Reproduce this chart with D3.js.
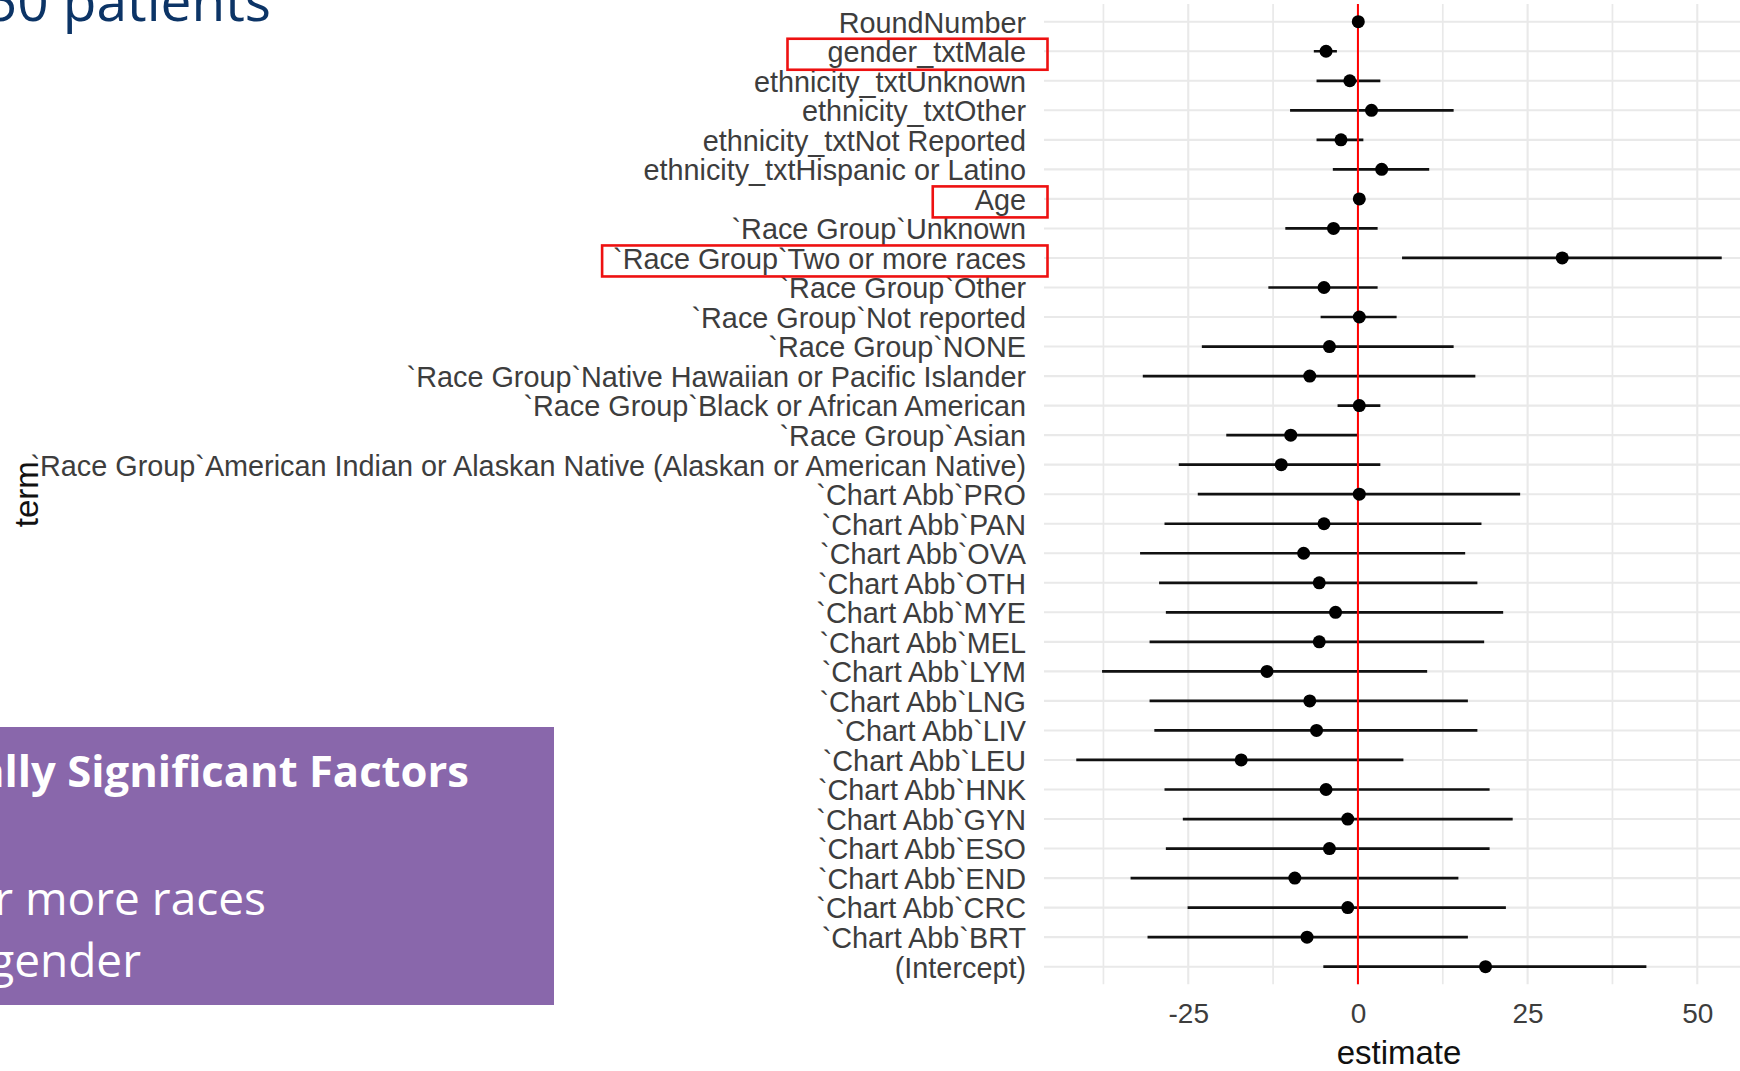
<!DOCTYPE html>
<html>
<head>
<meta charset="utf-8">
<script src="https://cdn.jsdelivr.net/npm/d3@7"></script>
<style>
  html, body { margin: 0; padding: 0; background: #fff; }
  svg { display: block; }
</style>
</head>
<body>
<svg id="chart" width="1740" height="1071"></svg>
<script>
// Model terms, listed top to bottom as they appear on the y axis
const terms = [
  "RoundNumber",
  "gender_txtMale",
  "ethnicity_txtUnknown",
  "ethnicity_txtOther",
  "ethnicity_txtNot Reported",
  "ethnicity_txtHispanic or Latino",
  "Age",
  "`Race Group`Unknown",
  "`Race Group`Two or more races",
  "`Race Group`Other",
  "`Race Group`Not reported",
  "`Race Group`NONE",
  "`Race Group`Native Hawaiian or Pacific Islander",
  "`Race Group`Black or African American",
  "`Race Group`Asian",
  "`Race Group`American Indian or Alaskan Native (Alaskan or American Native)",
  "`Chart Abb`PRO",
  "`Chart Abb`PAN",
  "`Chart Abb`OVA",
  "`Chart Abb`OTH",
  "`Chart Abb`MYE",
  "`Chart Abb`MEL",
  "`Chart Abb`LYM",
  "`Chart Abb`LNG",
  "`Chart Abb`LIV",
  "`Chart Abb`LEU",
  "`Chart Abb`HNK",
  "`Chart Abb`GYN",
  "`Chart Abb`ESO",
  "`Chart Abb`END",
  "`Chart Abb`CRC",
  "`Chart Abb`BRT",
  "(Intercept)"
];

// Coefficient estimates and confidence bounds, same order as terms
const estimate = [
  0.05, -4.7, -1.2, 2.0, -2.5, 3.5, 0.2, -3.6, 30.1, -5.0, 0.2,
  -4.2, -7.1, 0.2, -9.9, -11.3, 0.2, -5.0, -8.0, -5.7, -3.3, -5.7,
  -13.4, -7.1, -6.1, -17.2, -4.7, -1.5, -4.2, -9.3, -1.5, -7.5, 18.8
];
const confLow = [
  -0.2, -6.5, -6.1, -10.0, -6.1, -3.7, -0.1, -10.7, 6.5, -13.2, -5.5,
  -23.0, -31.7, -3.0, -19.4, -26.4, -23.6, -28.5, -32.1, -29.3, -28.3, -30.7,
  -37.7, -30.7, -30.0, -41.5, -28.5, -25.8, -28.3, -33.5, -25.1, -31.0, -5.1
];
const confHigh = [
  0.3, -3.1, 3.3, 14.1, 0.8, 10.5, 0.5, 2.9, 53.6, 2.9, 5.7,
  14.1, 17.3, 3.3, -0.1, 3.3, 23.9, 18.2, 15.8, 17.6, 21.4, 18.6,
  10.2, 16.2, 17.6, 6.7, 19.4, 22.8, 19.4, 14.8, 21.8, 16.2, 42.5
];

// Axis ticks
const majorTicks = [-25, 0, 25, 50];
const minorTicks = [-37.5, -12.5, 12.5, 37.5];

// Terms called out with a red frame around their label
const highlighted = ["gender_txtMale", "Age", "`Race Group`Two or more races"];

// Slide text around the plot
const titleText = "50 patients";
const boxHeading = "Statistically Significant Factors";
const boxLines = ["Two or more races", "Male gender"];

const rows = terms.map((t, i) => ({
  term: t, est: estimate[i], lo: confLow[i], hi: confHigh[i]
}));

const svg = d3.select("#chart");
svg.append("rect").attr("width", 1740).attr("height", 1071).attr("fill", "#fff");

// Panel geometry
const panel = { left: 1044, right: 1754, top: 4, bottom: 984.4 };

// ggplot-style 5% expansion of the data range
const lo = d3.min(confLow), hi = d3.max(confHigh);
const pad = (hi - lo) * 0.05;
const x = d3.scaleLinear().domain([lo - pad, hi + pad]).range([panel.left, panel.right]);
const y = d3.scalePoint().domain(terms).range([panel.top, panel.bottom]).padding(0.6);

svg.append("clipPath").attr("id", "panelClip")
  .append("rect")
  .attr("x", panel.left).attr("y", panel.top)
  .attr("width", panel.right - panel.left).attr("height", panel.bottom - panel.top);

const plot = svg.append("g").attr("clip-path", "url(#panelClip)");

// Grid
plot.selectAll("line.minor").data(minorTicks).join("line")
  .attr("class", "minor")
  .attr("x1", d => x(d)).attr("x2", d => x(d))
  .attr("y1", panel.top).attr("y2", panel.bottom)
  .attr("stroke", "#e9e9e9").attr("stroke-width", 1.7);

plot.selectAll("line.vmajor").data(majorTicks).join("line")
  .attr("class", "vmajor")
  .attr("x1", d => x(d)).attr("x2", d => x(d))
  .attr("y1", panel.top).attr("y2", panel.bottom)
  .attr("stroke", "#e9e9e9").attr("stroke-width", 2.1);

plot.selectAll("line.hmajor").data(terms).join("line")
  .attr("class", "hmajor")
  .attr("x1", panel.left).attr("x2", panel.right)
  .attr("y1", d => y(d)).attr("y2", d => y(d))
  .attr("stroke", "#e9e9e9").attr("stroke-width", 2.1);

// Error bars
plot.selectAll("line.err").data(rows).join("line")
  .attr("class", "err")
  .attr("x1", d => x(d.lo)).attr("x2", d => x(d.hi))
  .attr("y1", d => y(d.term)).attr("y2", d => y(d.term))
  .attr("stroke", "#111").attr("stroke-width", 2.7);

// Zero reference line
plot.append("line")
  .attr("x1", x(0)).attr("x2", x(0))
  .attr("y1", panel.top).attr("y2", panel.bottom)
  .attr("stroke", "#ff0000").attr("stroke-width", 2);

// Point estimates
plot.selectAll("circle.pt").data(rows).join("circle")
  .attr("class", "pt")
  .attr("cx", d => x(d.est)).attr("cy", d => y(d.term))
  .attr("r", 6.5).attr("fill", "#000");

// Y axis labels
const yAxis = svg.append("g")
  .attr("transform", `translate(${panel.left - 18},0)`)
  .call(d3.axisLeft(y).tickSize(0).tickPadding(0));
yAxis.select(".domain").remove();
yAxis.selectAll("text")
  .attr("font-family", "Liberation Sans, Arial, sans-serif")
  .attr("font-size", 28.8)
  .attr("fill", "#3d3d3d")
  .attr("dy", "0.36em");

// X axis labels
const xAxis = svg.append("g")
  .attr("transform", `translate(0,${panel.bottom})`)
  .call(d3.axisBottom(x).tickValues(majorTicks).tickSize(0).tickPadding(0).tickFormat(d => String(d)));
xAxis.select(".domain").remove();
xAxis.selectAll("text")
  .attr("font-family", "Liberation Sans, Arial, sans-serif")
  .attr("font-size", 28)
  .attr("fill", "#3d3d3d")
  .attr("dy", null)
  .attr("y", 39);

// Axis titles
svg.append("text")
  .attr("x", (panel.left + panel.right) / 2).attr("y", 1064)
  .attr("text-anchor", "middle")
  .attr("font-family", "Liberation Sans, Arial, sans-serif")
  .attr("font-size", 33).attr("fill", "#111")
  .text("estimate");

svg.append("text")
  .attr("transform", `translate(38,${(panel.top + panel.bottom) / 2}) rotate(-90)`)
  .attr("text-anchor", "middle")
  .attr("font-family", "Liberation Sans, Arial, sans-serif")
  .attr("font-size", 33).attr("fill", "#111")
  .text("term");

// Red frames around the called-out labels
const framePadLeft = { "gender_txtMale": 40, "Age": 42, "`Race Group`Two or more races": 11 };
yAxis.selectAll(".tick").each(function(d) {
  if (!highlighted.includes(d)) return;
  const bb = this.querySelector("text").getBBox();
  const cy = y(d) + 3;
  const left = panel.left - 18 + bb.x - framePadLeft[d];
  svg.append("rect")
    .attr("x", left).attr("y", cy - 15.5)
    .attr("width", 1047.5 - left).attr("height", 31)
    .attr("fill", "none").attr("stroke", "#ee1111").attr("stroke-width", 2.6);
});

// Slide title (runs off the top-left edge)
svg.append("text")
  .attr("x", 271).attr("y", 21)
  .attr("text-anchor", "end")
  .attr("font-family", "Open Sans, sans-serif")
  .attr("font-size", 55).attr("fill", "#0c3466")
  .text(titleText);

// Summary box
svg.append("rect")
  .attr("x", -10).attr("y", 727)
  .attr("width", 564).attr("height", 278)
  .attr("fill", "#8967ab");

svg.append("text")
  .attr("x", 469).attr("y", 787)
  .attr("text-anchor", "end")
  .attr("font-family", "Open Sans, sans-serif")
  .attr("font-weight", 700)
  .attr("font-size", 43.6).attr("fill", "#fff")
  .text(boxHeading);

svg.append("text")
  .attr("x", 266).attr("y", 915)
  .attr("text-anchor", "end")
  .attr("font-family", "Open Sans, sans-serif")
  .attr("font-size", 46).attr("fill", "#fff")
  .text(boxLines[0]);

svg.append("text")
  .attr("x", 141).attr("y", 977)
  .attr("text-anchor", "end")
  .attr("font-family", "Open Sans, sans-serif")
  .attr("font-size", 46).attr("fill", "#fff")
  .text(boxLines[1]);
</script>
</body>
</html>
